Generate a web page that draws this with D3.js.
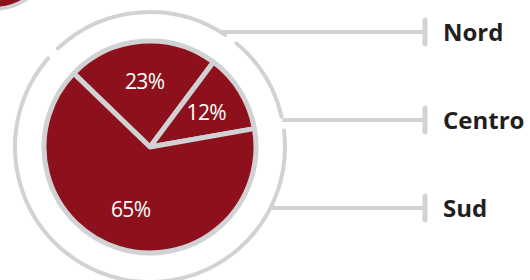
<!DOCTYPE html>
<html>
<head>
<meta charset="utf-8">
<script src="https://cdn.jsdelivr.net/npm/d3@7"></script>
<style>
body { margin: 0; background: #fff; }
</style>
</head>
<body>
<svg width="530" height="280"></svg>
<script>
// data
const regions = ['Nord', 'Centro', 'Sud'];
const shares = [23, 12, 65];

const red = '#8d111d';
const grey = '#d1d2d4';
const ink = '#231f20';

const svg = d3.select('svg');
const cx = 150, cy = 147;
const rPie = 106, rRing = 135;
const start = -46 * Math.PI / 180;

// bit of the neighbouring pie peeking in at the top left
svg.append('circle')
	.attr('cx', -8).attr('cy', -55).attr('r', 64)
	.attr('fill', red)
	.attr('stroke', grey).attr('stroke-width', 4);

const pie = d3.pie().sort(null).value(d => d)
	.startAngle(start).endAngle(start + 2 * Math.PI);
const arcs = pie(shares);

const g = svg.append('g').attr('transform', `translate(${cx},${cy})`);

// slices
const arc = d3.arc().innerRadius(0).outerRadius(rPie);
g.selectAll('path.slice')
	.data(arcs)
	.enter().append('path')
		.attr('class', 'slice')
		.attr('d', arc)
		.attr('fill', red)
		.attr('stroke', grey)
		.attr('stroke-width', 5)
		.attr('stroke-linejoin', 'round');

// outer ring, broken where the slices meet
const gap = 3 * Math.PI / 180;
g.selectAll('path.ring')
	.data(arcs)
	.enter().append('path')
		.attr('class', 'ring')
		.attr('d', d => {
			const p = d3.path();
			const a0 = d.startAngle + gap - Math.PI / 2;
			const a1 = d.endAngle - gap - Math.PI / 2;
			p.arc(0, 0, rRing, a0, a1);
			return p.toString();
		})
		.attr('fill', 'none')
		.attr('stroke', grey)
		.attr('stroke-width', 4)
		.attr('stroke-linecap', 'round');

// percentages
const labelArc = d3.arc().innerRadius(66).outerRadius(66);
g.selectAll('text.pct')
	.data(arcs)
	.enter().append('text')
		.attr('class', 'pct')
		.attr('transform', d => `translate(${labelArc.centroid(d)})`)
		.attr('text-anchor', 'middle')
		.attr('dy', '0.35em')
		.attr('fill', '#fff')
		.attr('font-family', '"Open Sans", sans-serif')
		.attr('font-size', 21)
		.attr('letter-spacing', -0.7)
		.text(d => d.data + '%');

// leader lines + region names
const y = d3.scalePoint().domain(regions).range([32, 208]);
const xEnd = 425;

const legend = svg.selectAll('g.leg')
	.data(regions)
	.enter().append('g')
		.attr('class', 'leg');

legend.append('line')
	.attr('x1', d => cx + Math.sqrt(rRing * rRing - Math.pow(y(d) - cy, 2)))
	.attr('x2', xEnd)
	.attr('y1', d => y(d))
	.attr('y2', d => y(d))
	.attr('stroke', grey)
	.attr('stroke-width', 4);

legend.append('line')
	.attr('x1', xEnd).attr('x2', xEnd)
	.attr('y1', d => y(d) - 12)
	.attr('y2', d => y(d) + 12)
	.attr('stroke', grey)
	.attr('stroke-width', 5)
	.attr('stroke-linecap', 'round');

legend.append('text')
	.attr('x', 443)
	.attr('y', d => y(d))
	.attr('dy', '0.36em')
	.attr('fill', ink)
	.attr('font-family', '"Open Sans", sans-serif')
	.attr('font-weight', 'bold')
	.attr('font-size', 24)
	.text(d => d);
</script>
</body>
</html>
